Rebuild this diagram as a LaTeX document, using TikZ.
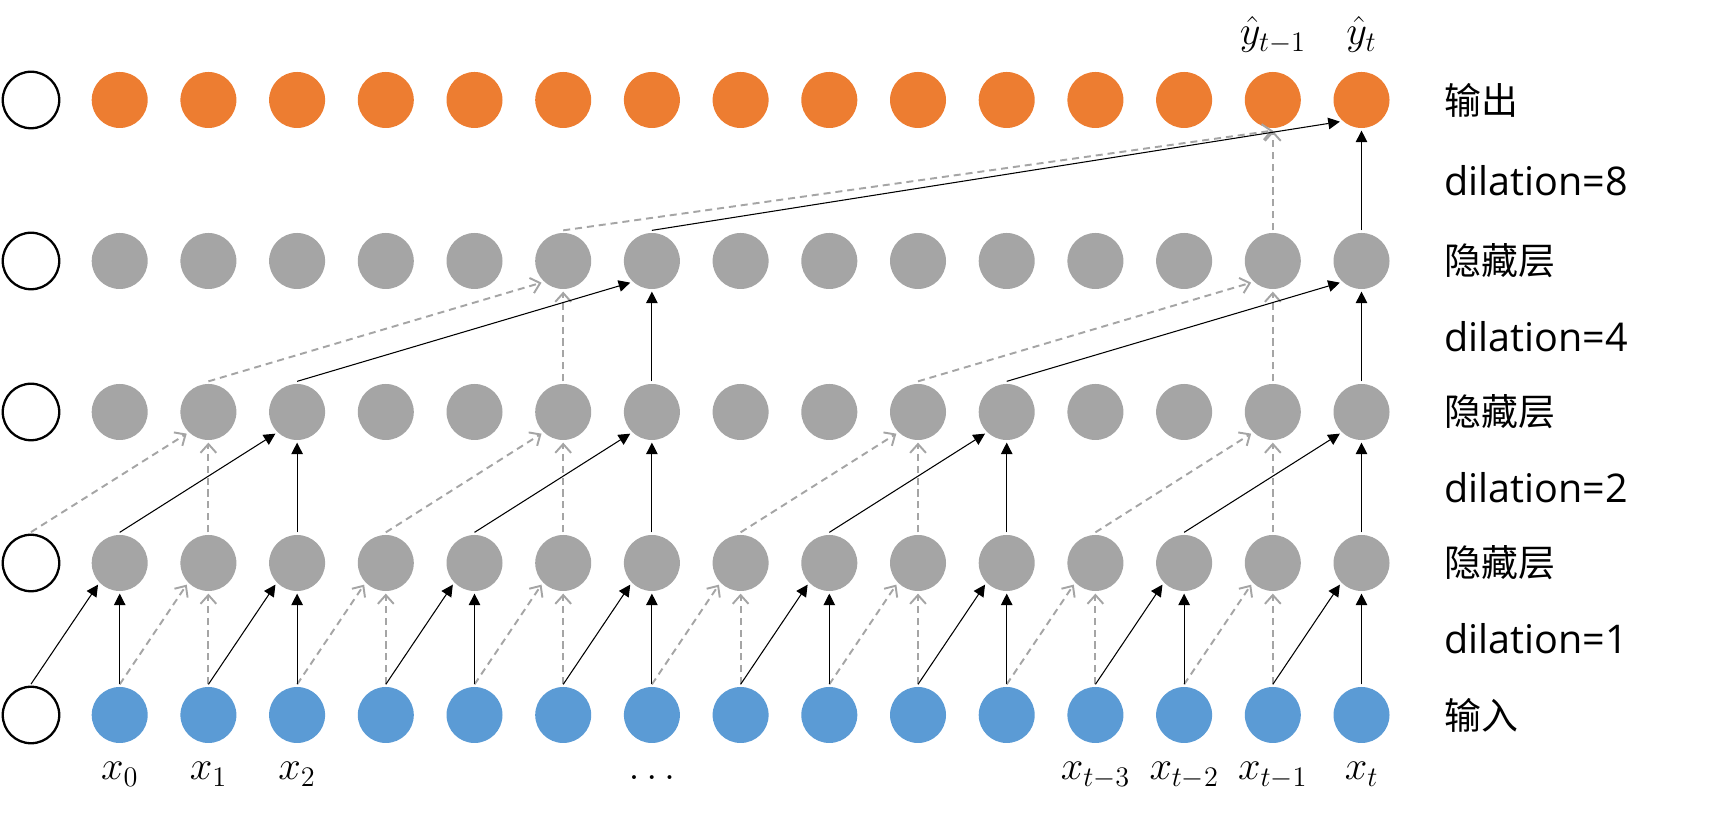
\documentclass[tikz,border=0pt]{standalone}
\usepackage{fix-cm}
\usepackage{fontspec}
\setmainfont{Open Sans}
\newfontfamily\cjk{Noto Sans CJK SC}
\usepackage{tikz}
\usetikzlibrary{arrows.meta}
\definecolor{inblue}{HTML}{5B9BD5}
\definecolor{outorange}{HTML}{ED7D31}
\definecolor{hidgray}{HTML}{A5A5A5}
\tikzset{unit node/.style={circle, inner sep=0pt, minimum size=1.12cm, outer sep=1.5pt}}
\tikzset{input node/.style={unit node, fill=inblue}}
\tikzset{hidden node/.style={unit node, fill=hidgray}}
\tikzset{output node/.style={unit node, fill=outorange}}
\tikzset{pad node/.style={unit node, draw=black, line width=1.3pt, minimum size=1.13cm}}
\tikzset{regular edge/.style={draw=black, line width=0.6pt, -{Triangle[length=6.6pt,width=6.6pt]}}}
\tikzset{skip edge/.style={draw=hidgray, line width=1.1pt, dash pattern=on 4pt off 2.8pt,
    -{Straight Barb[length=5pt,width=9pt]}}}
\tikzset{layer label/.style={anchor=west, inner sep=0pt, font=\cjk\fontsize{21}{25}\selectfont}}
\tikzset{dilation label/.style={anchor=west, inner sep=0pt, font=\fontsize{22.5}{27}\selectfont}}
\tikzset{index label/.style={anchor=base, inner sep=0pt, font=\fontsize{23}{27}\selectfont}}

\begin{document}
\begin{tikzpicture}
      \useasboundingbox (0,0) rectangle (34.36,16.26);

      % padding column
      \foreach \l/\y in {0/1.96, 1/5.0, 2/8.02, 3/11.04, 4/14.26}
        \node [pad node] (l\l n0) at (0.62, \y) {};

      % units
      \foreach \i in {1,...,15} {
        \node [input node]  (l0n\i) at ({0.62+1.774*\i},  1.96) {};
        \node [hidden node] (l1n\i) at ({0.62+1.774*\i},  5.0)  {};
        \node [hidden node] (l2n\i) at ({0.62+1.774*\i},  8.02) {};
        \node [hidden node] (l3n\i) at ({0.62+1.774*\i}, 11.04) {};
        \node [output node] (l4n\i) at ({0.62+1.774*\i}, 14.26) {};
      }

      % dilation 1
      \foreach \i [evaluate=\i as \j using int(\i-1)] in {2,4,...,14} {
        \draw [skip edge]    (l0n\j.north) -- (l1n\i.south west);
        \draw [skip edge]    (l0n\i.north) -- (l1n\i);
      }
      \foreach \i [evaluate=\i as \j using int(\i-1)] in {1,3,...,15} {
        \draw [regular edge] (l0n\j.north) -- (l1n\i.south west);
        \draw [regular edge] (l0n\i.north) -- (l1n\i);
      }

      % dilation 2
      \foreach \i [evaluate=\i as \j using int(\i-2)] in {2,6,10,14} {
        \draw [skip edge]    (l1n\j.north) -- (l2n\i.south west);
        \draw [skip edge]    (l1n\i.north) -- (l2n\i);
      }
      \foreach \i [evaluate=\i as \j using int(\i-2)] in {3,7,11,15} {
        \draw [regular edge] (l1n\j.north) -- (l2n\i.south west);
        \draw [regular edge] (l1n\i.north) -- (l2n\i);
      }

      % dilation 4
      \foreach \i [evaluate=\i as \j using int(\i-4)] in {6,14} {
        \draw [skip edge]    (l2n\j.north) -- (l3n\i.south west);
        \draw [skip edge]    (l2n\i.north) -- (l3n\i);
      }
      \foreach \i [evaluate=\i as \j using int(\i-4)] in {7,15} {
        \draw [regular edge] (l2n\j.north) -- (l3n\i.south west);
        \draw [regular edge] (l2n\i.north) -- (l3n\i);
      }

      % dilation 8
      \draw [skip edge]    (l3n6.north)  -- (l4n14.south);
      \draw [skip edge]    (l3n14.north) -- (l4n14);
      \draw [regular edge] (l3n7.north)  -- (l4n15.south west);
      \draw [regular edge] (l3n15.north) -- (l4n15);

      % layer names
      \node [layer label]    (outname)  at (28.88, 14.26) {输出};
      \node [dilation label] (dil8)     at (28.88, 12.65) {dilation=8};
      \node [layer label]    (hidname3) at (28.88, 11.04) {隐藏层};
      \node [dilation label] (dil4)     at (28.88,  9.53) {dilation=4};
      \node [layer label]    (hidname2) at (28.88,  8.02) {隐藏层};
      \node [dilation label] (dil2)     at (28.88,  6.51) {dilation=2};
      \node [layer label]    (hidname1) at (28.88,  5.0)  {隐藏层};
      \node [dilation label] (dil1)     at (28.88,  3.48) {dilation=1};
      \node [layer label]    (inname)   at (28.88,  1.96) {输入};

      % indices
      \node [index label] (x0)   at ( 2.394, 0.66) {$x_0$};
      \node [index label] (x1)   at ( 4.168, 0.66) {$x_1$};
      \node [index label] (x2)   at ( 5.942, 0.66) {$x_2$};
      \node [index label] (xdots) at (13.038, 0.66) {$\dots$};
      \node [index label] (xt3)  at (21.908, 0.66) {$x_{t-3}$};
      \node [index label] (xt2)  at (23.682, 0.66) {$x_{t-2}$};
      \node [index label] (xt1)  at (25.456, 0.66) {$x_{t-1}$};
      \node [index label] (xt)   at (27.230, 0.66) {$x_t$};
      \node [index label] (yt1)  at (25.456, 15.36) {$\hat{y}_{t-1}$};
      \node [index label] (yt)   at (27.230, 15.36) {$\hat{y}_t$};
\end{tikzpicture}
\end{document}
